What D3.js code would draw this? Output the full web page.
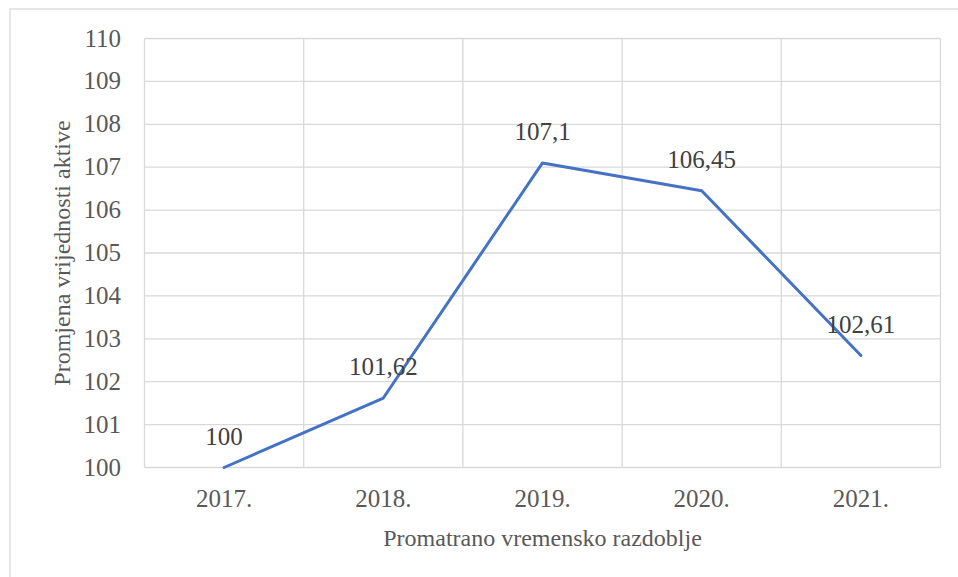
<!DOCTYPE html>
<html><head><meta charset="utf-8">
<script src="https://cdn.jsdelivr.net/npm/d3@7"></script>
</head><body style="margin:0;background:#fff">
<svg id="c" width="958" height="577"></svg>
<script>
const categories = ["2017.", "2018.", "2019.", "2020.", "2021."];
const values = [100, 101.62, 107.1, 106.45, 102.61];
const labels = ["100", "101,62", "107,1", "106,45", "102,61"];
const yTicks = [100, 101, 102, 103, 104, 105, 106, 107, 108, 109, 110];
const xTitle = "Promatrano vremensko razdoblje";
const yTitle = "Promjena vrijednosti aktive";

const svg = d3.select("#c");
const L = 144.5, R = 940.5, T = 38.5, B = 467.5;
const ser = sel => sel.attr("font-family", "Liberation Serif").style("font-family", '"Liberation Serif", monospace');

svg.append("rect").attr("x", 10).attr("y", 9).attr("width", 1000).attr("height", 700)
  .attr("fill", "#fff").attr("stroke", "#d9d9d9").attr("stroke-width", 1.3);

const x = d3.scaleBand().domain(categories).range([L, R]);
const y = d3.scaleLinear().domain([100, 110]).range([B, T]);

const g = svg.append("g");
g.selectAll(".hg").data(yTicks).join("line")
  .attr("x1", L).attr("x2", R).attr("y1", d => y(d)).attr("y2", d => y(d))
  .attr("stroke", "#d9d9d9").attr("stroke-width", 1.3);
const edges = categories.map(c => x(c)).concat([x(categories[categories.length - 1]) + x.bandwidth()]);
g.selectAll(".vg").data(edges).join("line")
  .attr("x1", d => d).attr("x2", d => d).attr("y1", T).attr("y2", B)
  .attr("stroke", "#d9d9d9").attr("stroke-width", 1.3);

g.selectAll(".yt").data(yTicks).join("text")
  .attr("x", 121).attr("y", d => y(d) + 8)
  .attr("text-anchor", "end").attr("font-size", 25)
  .attr("fill", "#595959").text(d => d).call(ser);

g.selectAll(".xt").data(categories).join("text")
  .attr("x", d => x(d) + x.bandwidth() / 2).attr("y", 507)
  .attr("text-anchor", "middle").attr("font-size", 25)
  .attr("fill", "#595959").text(d => d).call(ser);

const line = d3.line().x((d, i) => x(categories[i]) + x.bandwidth() / 2).y(d => y(d));
g.append("path").datum(values).attr("d", line).attr("fill", "none")
  .attr("stroke", "#4472C4").attr("stroke-width", 3).attr("stroke-linejoin", "round").attr("stroke-linecap", "round");

g.selectAll(".dl").data(values).join("text")
  .attr("x", (d, i) => x(categories[i]) + x.bandwidth() / 2).attr("y", d => y(d) - 23)
  .attr("text-anchor", "middle").attr("font-size", 25)
  .attr("fill", "#404040").text((d, i) => labels[i]).call(ser);

svg.append("text").attr("x", (L + R) / 2).attr("y", 546).attr("text-anchor", "middle")
  .attr("font-size", 24).attr("fill", "#595959").text(xTitle).call(ser);
svg.append("text").attr("transform", `translate(70,${(T + B) / 2}) rotate(-90)`)
  .attr("text-anchor", "middle").attr("font-size", 24)
  .attr("fill", "#595959").text(yTitle).call(ser);
</script>
</body></html>
